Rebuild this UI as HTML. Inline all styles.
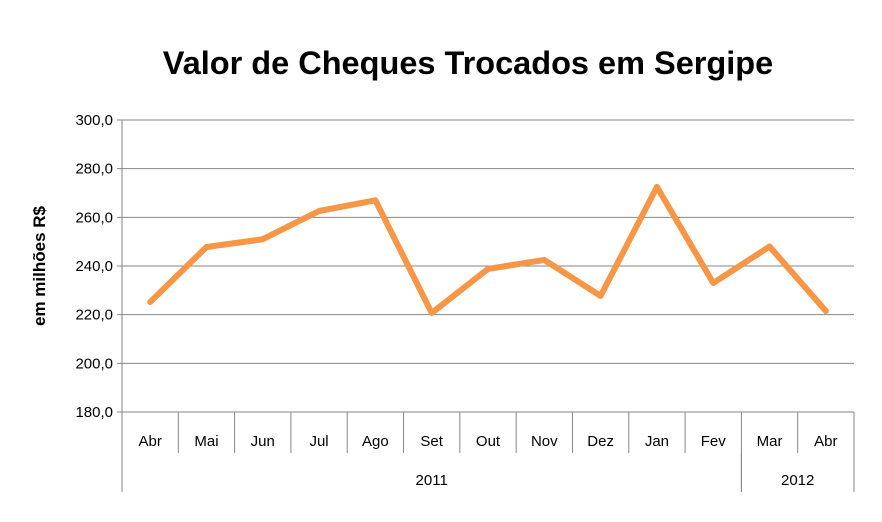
<!DOCTYPE html>
<html><head><meta charset="utf-8"><style>
body{margin:0;background:#fff;font-family:"Liberation Sans",sans-serif;}
</style></head><body>
<svg width="882" height="517" xmlns="http://www.w3.org/2000/svg">
<rect width="882" height="517" fill="#fff"/>
<text x="468" y="74" text-anchor="middle" font-size="32.5" font-weight="bold" font-family="Liberation Sans, sans-serif">Valor de Cheques Trocados em Sergipe</text>
<text transform="translate(45,266) rotate(-90)" text-anchor="middle" font-size="17" font-weight="bold">em milhões R$</text>
<g id="grid"></g><g id="axes"></g><g id="series"></g>
</svg>
<script>
const categories=["Abr","Mai","Jun","Jul","Ago","Set","Out","Nov","Dez","Jan","Fev","Mar","Abr"];
const values=[225.2,247.8,251,262.6,267,220.7,238.8,242.5,227.7,272.5,233,248,221.5];
const yTicks=[180,200,220,240,260,280,300];
const yTickLabels=["180,0","200,0","220,0","240,0","260,0","280,0","300,0"];
const years=[{label:"2011",start:0,end:11},{label:"2012",start:11,end:13}];
const ns="http://www.w3.org/2000/svg";
const L=122,R=854,T=120,B=412,yMin=180,yMax=300;
const bw=(R-L)/categories.length;
const xs=i=>L+bw*(i+0.5), xe=i=>L+bw*i;
const ys=v=>B-(v-yMin)/(yMax-yMin)*(B-T);
function mk(tag,attrs,parent,text){const e=document.createElementNS(ns,tag);for(const k in attrs)e.setAttribute(k,attrs[k]);if(text!=null)e.textContent=text;document.getElementById(parent).appendChild(e);return e;}
yTicks.forEach((t,i)=>{
 const g=mk('line',{x1:L-5,x2:R,y1:ys(t),y2:ys(t),stroke:'#868686','stroke-width':1},'grid');
 
 
 const tx=mk('text',{x:L-9,y:ys(t)+5,'text-anchor':'end','font-size':15},'axes',yTickLabels[i]);
 
 
});
const ya=mk('line',{x1:L,x2:L,y1:T,y2:B,stroke:'#868686'},'axes');


for(let i=0;i<=categories.length;i++){
 const l=mk('line',{x1:xe(i),x2:xe(i),y1:B,y2:453,stroke:'#868686'},'axes');
 
 
}
categories.forEach((c,i)=>{
 const t=mk('text',{x:xs(i),y:446,'text-anchor':'middle','font-size':15},'axes',c);
 
 
});
years.forEach(y=>{
 [y.start,y.end].forEach(k=>{const l=mk('line',{x1:xe(k),x2:xe(k),y1:453,y2:492,stroke:'#868686'},'axes');
 
 });
 const t=mk('text',{x:(xe(y.start)+xe(y.end))/2,y:485,'text-anchor':'middle','font-size':15},'axes',y.label);
 
 
});
const p=mk('polyline',{points:values.map((v,i)=>xs(i)+','+ys(v)).join(' '),fill:'none',stroke:'#F79646','stroke-width':6,'stroke-linejoin':'round','stroke-linecap':'round'},'series');


</script>
</body></html>
